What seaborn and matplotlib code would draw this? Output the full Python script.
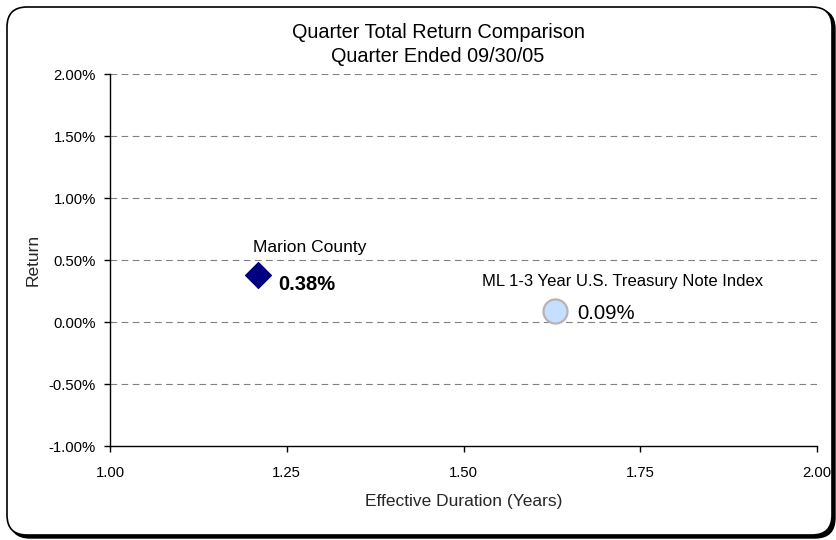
import matplotlib
matplotlib.use("Agg")
import matplotlib.pyplot as plt
from matplotlib.patches import FancyBboxPatch
from matplotlib.ticker import FuncFormatter
import seaborn as sns
import pandas as pd

# Portfolio duration / return data
names = ["Marion County", "ML 1-3 Year U.S. Treasury Note Index"]
durations = [1.209, 1.629]
returns = [0.38, 0.09]

x_ticks = [1.00, 1.25, 1.50, 1.75, 2.00]
y_ticks = [-1.00, -0.50, 0.00, 0.50, 1.00, 1.50, 2.00]

df = pd.DataFrame({"name": names, "duration": durations, "ret": returns})

sns.set_theme(style="white")
plt.rcParams["font.family"] = ["Liberation Sans", "DejaVu Sans"]
plt.rcParams["text.color"] = "black"

W, H = 836, 540
fig = plt.figure(figsize=(W / 100, H / 100), dpi=100)
ax = fig.add_axes([110 / W, 1 - 446 / H, (817 - 110) / W, (446 - 74) / H])

# Rounded chart frame with a drop shadow (pixel coordinates)
shadow = FancyBboxPatch((10, H - 538), 825, 529,
                        boxstyle="round,pad=0,rounding_size=20",
                        transform=None, facecolor="black",
                        edgecolor="black", linewidth=1, zorder=-2)
frame = FancyBboxPatch((7, H - 535), 825, 528,
                       boxstyle="round,pad=0,rounding_size=20",
                       transform=None, facecolor="white",
                       edgecolor="black", linewidth=1.2, zorder=-1)
fig.patches.extend([shadow, frame])
ax.set_facecolor("none")

sns.scatterplot(data=df.iloc[[0]], x="duration", y="ret", marker="D", s=170,
                color="#000080", edgecolor="#000080", ax=ax, zorder=5, legend=False)
sns.scatterplot(data=df.iloc[[1]], x="duration", y="ret", marker="o", s=300,
                color="#C6DEFF", edgecolor="#B4B4B4", linewidth=1.6, ax=ax,
                zorder=5, legend=False)

ax.set_xlim(1.0, 2.0)
ax.set_ylim(-1.0, 2.0)
ax.set_xticks(x_ticks)
ax.set_yticks(y_ticks)
ax.xaxis.set_major_formatter(FuncFormatter(lambda v, p: f"{v:.2f}"))
ax.yaxis.set_major_formatter(FuncFormatter(lambda v, p: f"{v:.2f}%"))
ax.tick_params(axis="both", labelsize=10.7, colors="black", length=4.5,
               width=1, direction="out", left=True, bottom=True)
ax.tick_params(axis="y", pad=5.5)
ax.tick_params(axis="x", pad=10)

for y in y_ticks[1:]:
    ax.axhline(y, color="#808080", linestyle=(0, (6, 4)), linewidth=0.8, zorder=1)

for side in ["top", "right"]:
    ax.spines[side].set_visible(False)
for side in ["left", "bottom"]:
    ax.spines[side].set_color("black")
    ax.spines[side].set_linewidth(1)

ax.set_xlabel("Effective Duration (Years)", fontsize=12.5, labelpad=10)
ax.set_ylabel("Return", fontsize=12.5, labelpad=6)

fig.text(438 / W, 1 - 33 / H, "Quarter Total Return Comparison",
         ha="center", va="center", fontsize=14.3)
fig.text(438 / W, 1 - 57 / H, "Quarter Ended 09/30/05",
         ha="center", va="center", fontsize=14.3)

# Point labels
ax.annotate(names[0], (durations[0], returns[0]), xytext=(-3.5, 20),
            textcoords="offset points", ha="left", va="center", fontsize=12.5)
ax.annotate(f"{returns[0]:.2f}%", (durations[0], returns[0]), xytext=(14.5, -7),
            textcoords="offset points", ha="left", va="center",
            fontsize=14.5, fontweight="bold")
ax.annotate(names[1], (durations[1], returns[1]), xytext=(-52, 21),
            textcoords="offset points", ha="left", va="center", fontsize=12)
ax.annotate(f"{returns[1]:.2f}%", (durations[1], returns[1]), xytext=(16.5, -2),
            textcoords="offset points", ha="left", va="center", fontsize=14.7)

fig.savefig("out.png", dpi=100)
